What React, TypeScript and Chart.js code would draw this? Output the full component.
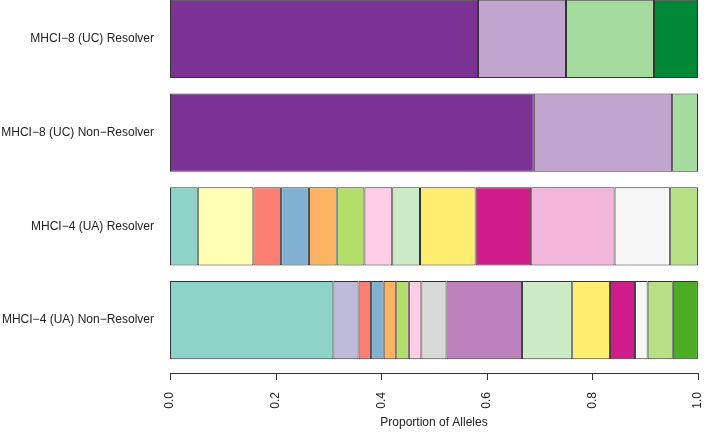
import React, { useEffect, useRef } from "react";
import { Chart, registerables } from "chart.js";

Chart.register(...registerables);

const categories = [
  "MHCI\u22128 (UC) Resolver",
  "MHCI\u22128 (UC) Non\u2212Resolver",
  "MHCI\u22124 (UA) Resolver",
  "MHCI\u22124 (UA) Non\u2212Resolver",
];

const ucResolverValues = [0.5833, 0.1667, 0.1667, 0.0833];
const ucResolverColors = ["#7B3294", "#C2A5CF", "#A6DBA0", "#008837"];

const ucNonResolverValues = [0.689, 0.262, 0.049];
const ucNonResolverColors = ["#7B3294", "#C2A5CF", "#A6DBA0"];

const uaResolverValues = [0.0526, 0.1053, 0.0526, 0.0526, 0.0526, 0.0526, 0.0526, 0.0526, 0.1053, 0.1053, 0.1579, 0.1053, 0.0526];
const uaResolverColors = ["#8DD3C7", "#FFFFB3", "#FB8072", "#80B1D3", "#FDB462", "#B3DE69", "#FCCDE5", "#CCEBC5", "#FFED6F", "#D01C8B", "#F1B6DA", "#F7F7F7", "#B8E186"];

const uaNonResolverValues = [0.3095, 0.0476, 0.0238, 0.0238, 0.0238, 0.0238, 0.0238, 0.0476, 0.1429, 0.0952, 0.0714, 0.0476, 0.0238, 0.0476, 0.0476];
const uaNonResolverColors = ["#8DD3C7", "#BEBADA", "#FB8072", "#80B1D3", "#FDB462", "#B3DE69", "#FCCDE5", "#D9D9D9", "#BC80BD", "#CCEBC5", "#FFED6F", "#D01C8B", "#F7F7F7", "#B8E186", "#4DAC26"];

const xTicks = [0, 0.2, 0.4, 0.6, 0.8, 1.0];
const xTitle = "Proportion of Alleles";

const rows = [
  { values: ucResolverValues, colors: ucResolverColors },
  { values: ucNonResolverValues, colors: ucNonResolverColors },
  { values: uaResolverValues, colors: uaResolverColors },
  { values: uaNonResolverValues, colors: uaNonResolverColors },
];

const FONT = "'Liberation Sans', Arial, Helvetica, sans-serif";

const rAxisPlugin = {
  id: "rAxis",
  afterDraw(chart: any) {
    const ctx = chart.ctx;
    const xs = chart.scales.x;
    const y0 = Math.round(chart.chartArea.bottom + 6);
    ctx.save();
    ctx.strokeStyle = "#333";
    ctx.lineWidth = 1;
    ctx.beginPath();
    const xa = Math.round(xs.getPixelForValue(xTicks[0])) + 0.5;
    const xb = Math.round(xs.getPixelForValue(xTicks[xTicks.length - 1])) + 0.5;
    ctx.moveTo(xa, y0 + 0.5);
    ctx.lineTo(xb, y0 + 0.5);
    for (const t of xTicks) {
      const px = Math.round(xs.getPixelForValue(t)) + 0.5;
      ctx.moveTo(px, y0);
      ctx.lineTo(px, y0 + 7);
    }
    ctx.stroke();
    ctx.restore();
  },
};

export default function App() {
  const ref = useRef<HTMLCanvasElement>(null);
  useEffect(() => {
    const datasets: any[] = [];
    rows.forEach((row, r) => {
      row.values.forEach((v, s) => {
        datasets.push({
          label: `${categories[r]} ${s + 1}`,
          data: categories.map((_, i) => (i === r ? v : null)),
          backgroundColor: row.colors[s],
          borderColor: "#333",
          borderWidth: 1,
          borderSkipped: false,
          stack: "all",
          categoryPercentage: 1,
          barPercentage: 0.8333,
        });
      });
    });
    const chart = new Chart(ref.current!, {
      type: "bar",
      data: { labels: categories, datasets },
      options: {
        indexAxis: "y",
        animation: false,
        responsive: true,
        maintainAspectRatio: false,
        layout: { padding: { left: 0, right: 11, top: 0, bottom: 0 } },
        plugins: { legend: { display: false }, tooltip: { enabled: false } },
        scales: {
          x: {
            type: "linear",
            stacked: true,
            min: 0,
            max: 1,
            afterBuildTicks: (scale: any) => {
              scale.ticks = xTicks.map((v) => ({ value: v }));
            },
            afterFit: (scale: any) => {
              scale.height = 66;
              scale.paddingLeft = 0;
              scale.paddingRight = 0;
            },
            grid: { display: false, drawTicks: false },
            border: { display: false },
            ticks: {
              minRotation: 90,
              maxRotation: 90,
              padding: 25,
              color: "#222",
              font: { family: FONT, size: 12 },
              callback: (v: any) => Number(v).toFixed(1),
            },
            title: {
              display: true,
              text: xTitle,
              color: "#222",
              font: { family: FONT, size: 12 },
              padding: { top: 0, bottom: 3 },
            },
          },
          y: {
            stacked: true,
            afterFit: (scale: any) => {
              scale.width = 170;
              scale.paddingTop = 0;
              scale.paddingBottom = 0;
            },
            grid: { display: false, drawTicks: false },
            border: { display: false },
            ticks: {
              padding: 16,
              color: "#222",
              font: { family: FONT, size: 12 },
            },
          },
        },
      },
      plugins: [rAxisPlugin],
    });
    return () => chart.destroy();
  }, []);
  return (
    <div style={{ position: "fixed", left: 0, top: -8, width: 709, height: 441, background: "#fff" }}>
      <canvas ref={ref} />
    </div>
  );
}
